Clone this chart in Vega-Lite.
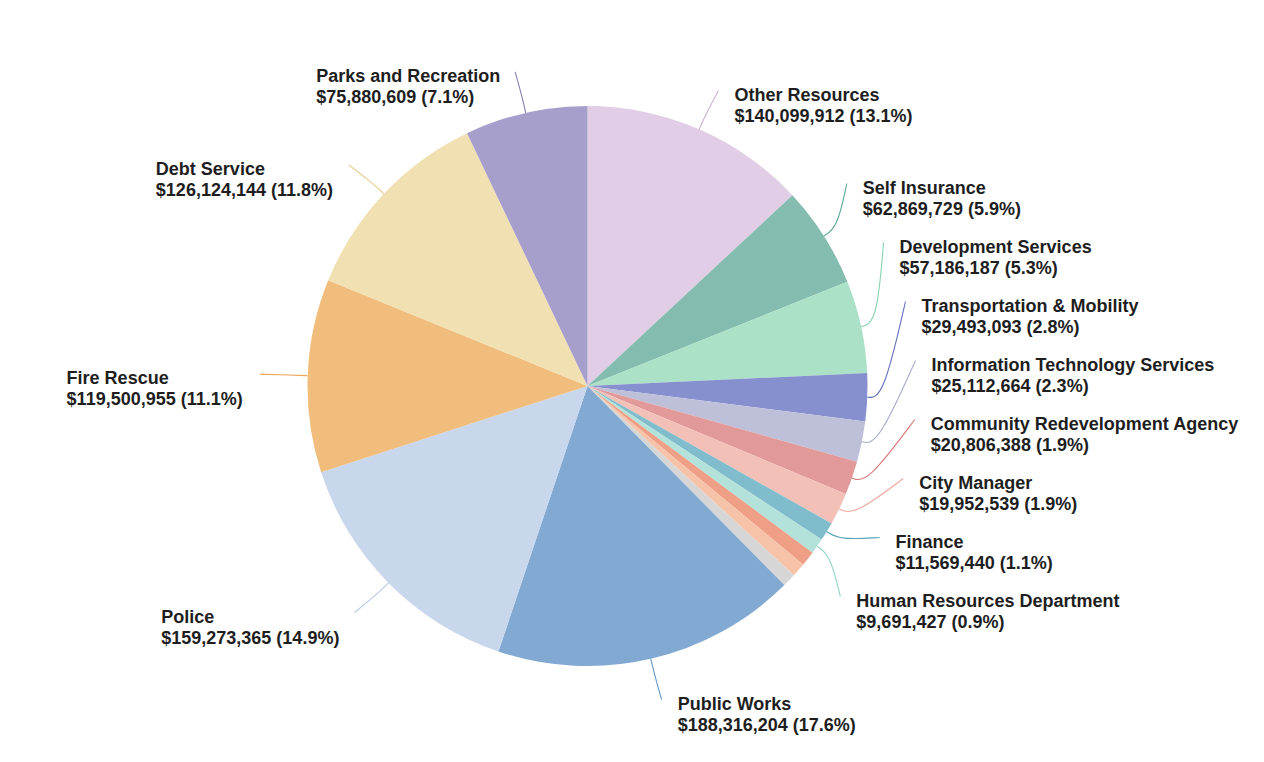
{
  "$schema": "https://vega.github.io/schema/vega-lite/v6.json",
  "width": 1175,
  "height": 752,
  "padding": {"top": 10, "left": 0, "right": 0, "bottom": 0},
  "background": "white",
  "config": {"view": {"stroke": null}},
  "data": {
    "values": [
      {"name": "Other Resources", "amount": 140099912, "order": 1},
      {"name": "Self Insurance", "amount": 62869729, "order": 2},
      {"name": "Development Services", "amount": 57186187, "order": 3},
      {"name": "Transportation & Mobility", "amount": 29493093, "order": 4},
      {"name": "Information Technology Services", "amount": 25112664, "order": 5},
      {"name": "Community Redevelopment Agency", "amount": 20806388, "order": 6},
      {"name": "City Manager", "amount": 19952539, "order": 7},
      {"name": "Finance", "amount": 11569440, "order": 8},
      {"name": "Human Resources Department", "amount": 9691427, "order": 9},
      {"name": "Unlabeled slice 1", "amount": 9200000, "order": 10},
      {"name": "Unlabeled slice 2", "amount": 8600000, "order": 11},
      {"name": "Unlabeled slice 3", "amount": 8400000, "order": 12},
      {"name": "Public Works", "amount": 188316204, "order": 13},
      {"name": "Police", "amount": 159273365, "order": 14},
      {"name": "Fire Rescue", "amount": 119500955, "order": 15},
      {"name": "Debt Service", "amount": 126124144, "order": 16},
      {"name": "Parks and Recreation", "amount": 75880609, "order": 17}
    ]
  },
  "transform": [
    {"joinaggregate": [{"op": "sum", "field": "amount", "as": "total"}]},
    {"window": [{"op": "sum", "field": "amount", "as": "cum"}], "sort": [{"field": "order", "order": "ascending"}], "frame": [null, 0]},
    {"calculate": "(datum.cum - datum.amount / 2) / datum.total * 2 * PI", "as": "mid"}
  ],
  "layer": [
    {
      "mark": {"type": "arc", "outerRadius": 280, "stroke": null},
      "encoding": {
        "theta": {"field": "amount", "type": "quantitative", "stack": true},
        "order": {"field": "order", "type": "quantitative"},
        "color": {
          "field": "name",
          "type": "nominal",
          "legend": null,
          "scale": {
            "domain": ["Other Resources", "Self Insurance", "Development Services", "Transportation & Mobility", "Information Technology Services", "Community Redevelopment Agency", "City Manager", "Finance", "Human Resources Department", "Unlabeled slice 1", "Unlabeled slice 2", "Unlabeled slice 3", "Public Works", "Police", "Fire Rescue", "Debt Service", "Parks and Recreation"],
            "range": ["#e2cde6", "#84bdaf", "#aae1c7", "#8790ce", "#bec0da", "#e19999", "#f3c0b8", "#80bccb", "#b2e2da", "#ee9f85", "#f7c3a8", "#d6d6d6", "#82a9d2", "#c8d7ec", "#f1bd7d", "#f1e0b2", "#a79fcb"]
          }
        }
      }
    },
    {
      "transform": [
        {"filter": "datum.amount >= 9500000"},
        {"window": [{"op": "row_number", "as": "k"}], "sort": [{"field": "order", "order": "ascending"}]},
        {"calculate": "datum.k >= 2 && datum.k <= 9", "as": "grp"},
        {"calculate": "datum.grp ? -4 - (datum.k - 5.5) * 59 : 322 * cos(datum.mid)", "as": "ly"},
        {"calculate": "datum.grp ? sqrt(max(0, 329 * 329 - datum.ly * datum.ly)) : 328 * sin(datum.mid)", "as": "lx"},
        {"calculate": "280 * sin(datum.mid)", "as": "x0"},
        {"calculate": "280 * cos(datum.mid)", "as": "y0"},
        {"calculate": "296 * sin(datum.mid)", "as": "x1"},
        {"calculate": "296 * cos(datum.mid)", "as": "y1"},
        {"calculate": "datum.lx", "as": "x2"},
        {"calculate": "datum.ly", "as": "y2"},
        {"fold": ["x0", "x1", "x2"], "as": ["pt", "px"]},
        {"calculate": "datum.pt == 'x0' ? datum.y0 : (datum.pt == 'x1' ? datum.y1 : datum.y2)", "as": "py"}
      ],
      "mark": {"type": "line", "interpolate": "basis", "strokeWidth": 1.1},
      "encoding": {
        "x": {"field": "px", "type": "quantitative", "axis": null, "scale": {"domain": [-587.5, 587.5], "nice": false, "zero": false}},
        "y": {"field": "py", "type": "quantitative", "axis": null, "scale": {"domain": [-376, 376], "nice": false, "zero": false}},
        "detail": {"field": "name", "type": "nominal"},
        "order": {"field": "pt", "type": "ordinal"},
        "stroke": {
          "field": "name",
          "type": "nominal",
          "legend": null,
          "scale": {
            "domain": ["Other Resources", "Self Insurance", "Development Services", "Transportation & Mobility", "Information Technology Services", "Community Redevelopment Agency", "City Manager", "Finance", "Human Resources Department", "Public Works", "Police", "Fire Rescue", "Debt Service", "Parks and Recreation"],
            "range": ["#cfb0d6", "#5fa898", "#86d2b0", "#6470be", "#a9abcc", "#d67878", "#eda89e", "#5aa5b8", "#92d4ca", "#6496c8", "#b6cae6", "#eba654", "#e8cf90", "#8a80b8"]
          }
        }
      }
    },
    {
      "transform": [
        {"filter": "datum.amount >= 9500000"},
        {"window": [{"op": "row_number", "as": "k"}], "sort": [{"field": "order", "order": "ascending"}]},
        {"calculate": "datum.k >= 2 && datum.k <= 9", "as": "grp"},
        {"calculate": "datum.grp ? -4 - (datum.k - 5.5) * 59 : 322 * cos(datum.mid)", "as": "ly"},
        {"calculate": "datum.grp ? sqrt(max(0, 329 * 329 - datum.ly * datum.ly)) : 328 * sin(datum.mid)", "as": "lx"},
        {"calculate": "'$' + format(datum.amount, ',') + ' (' + format(datum.amount / datum.total * 100, '.1f') + '%)'", "as": "vlabel"},
        {"calculate": "[datum.name, datum.vlabel]", "as": "lines"},
        {"calculate": "length(datum.vlabel) - length(replace(datum.vlabel, regexp('[0-9$]', 'g'), ''))", "as": "nd"},
        {"calculate": "18 * (0.556 * datum.nd + 0.278 * (length(datum.vlabel) - datum.nd - 3) + 0.666 + 0.889)", "as": "estv"},
        {"calculate": "max(9.2 * length(datum.name), datum.estv)", "as": "est"},
        {"calculate": "datum.mid < PI ? datum.lx + 16 : datum.lx - 15 - datum.est", "as": "tx"},
        {"calculate": "datum.ly + 4", "as": "ty"}
      ],
      "mark": {"type": "text", "align": "left", "baseline": "top", "font": "Liberation Sans", "fontWeight": "bold", "fontSize": 18, "lineHeight": 21, "color": "#1e1e1e"},
      "encoding": {
        "x": {"field": "tx", "type": "quantitative", "axis": null},
        "y": {"field": "ty", "type": "quantitative", "axis": null},
        "text": {"field": "lines", "type": "nominal"}
      }
    }
  ]
}
